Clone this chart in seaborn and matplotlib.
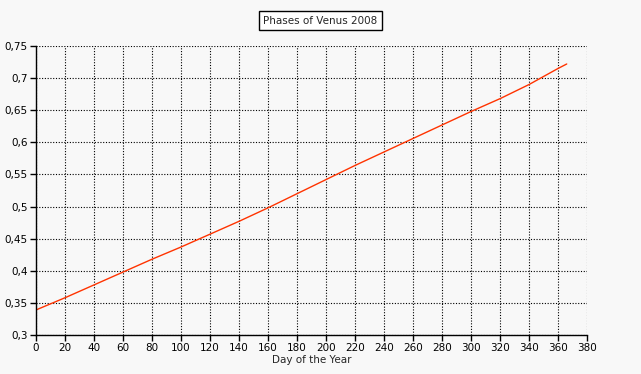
import matplotlib
matplotlib.use('Agg')
import matplotlib.pyplot as plt
from matplotlib.ticker import FuncFormatter, MultipleLocator
import pandas as pd
import seaborn as sns

# values
days = [0, 20, 40, 60, 80, 100, 120, 140, 160, 180, 200, 220, 240, 260, 280, 300, 320, 340, 360, 366]
phase = [0.339, 0.358, 0.378, 0.398, 0.418, 0.437, 0.457, 0.477, 0.498, 0.520, 0.542, 0.564,
         0.585, 0.606, 0.627, 0.648, 0.668, 0.690, 0.715, 0.722]

title = 'Phases of Venus 2008'
xlabel = 'Day of the Year'

df = pd.DataFrame({'day': days, 'phase': phase})

sns.set_style('white')
plt.rcParams['font.family'] = ['DejaVu Sans']

bg = '#f8f8f8'
fig = plt.figure(figsize=(6.41, 3.74), dpi=100, facecolor=bg)
ax = fig.add_axes([0.0562, 0.1043, 0.8596, 0.7727])
ax.set_facecolor(bg)

sns.lineplot(data=df, x='day', y='phase', ax=ax, color='#ff3300', linewidth=1.0)

ax.set_xlim(0, 380)
ax.set_ylim(0.3, 0.75)
ax.xaxis.set_major_locator(MultipleLocator(20))
ax.yaxis.set_major_locator(MultipleLocator(0.05))

comma = FuncFormatter(lambda v, p: ('%g' % round(v, 2)).replace('.', ','))
ax.yaxis.set_major_formatter(comma)
ax.xaxis.set_major_formatter(FuncFormatter(lambda v, p: '%d' % round(v)))

ax.grid(True, color='black', linestyle=(0, (1, 1.5)), linewidth=0.8)
ax.set_axisbelow(True)
for s in ['top', 'right']:
    ax.spines[s].set_visible(False)
for s in ['left', 'bottom']:
    ax.spines[s].set_color('black')
    ax.spines[s].set_linewidth(1.0)

ax.tick_params(axis='both', which='major', direction='out', length=4, width=1,
               color='black', labelsize=7.5, labelcolor='black', pad=2, left=True, bottom=True)

ax.set_xlabel(xlabel, fontsize=7.5, labelpad=1)
ax.set_ylabel('')

fig.text(0.5, 0.945, title, ha='center', va='center', fontsize=7.5,
         bbox=dict(boxstyle='square,pad=0.45', facecolor='white', edgecolor='black', linewidth=1))

fig.savefig('out.png', dpi=100, facecolor=bg)
